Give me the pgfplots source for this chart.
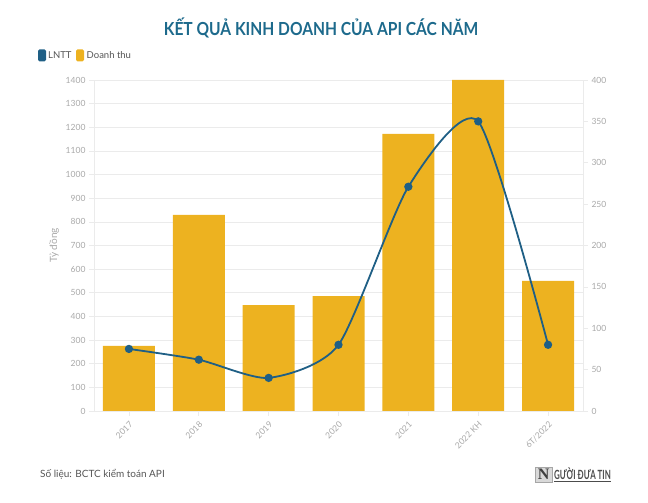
\documentclass[border=0pt]{standalone}
\usepackage{pgfplots}
\pgfplotsset{compat=1.18}
\usepackage{fontspec}
\setmainfont{Lato}
\newfontfamily\serifN{Liberation Serif}
\definecolor{barc}{HTML}{EDB220}
\definecolor{linec}{HTML}{1F5F85}
\definecolor{ttl}{HTML}{1D6A8C}
\definecolor{tickc}{HTML}{A8A8A8}
\definecolor{gridc}{HTML}{EBEBEB}
\definecolor{txtc}{HTML}{555555}
\begin{document}
\begin{tikzpicture}
\useasboundingbox (0pt,0pt) rectangle (648pt,503pt);
\node[font=\fontsize{18}{22}\selectfont\bfseries, text=ttl, inner sep=0] at (321pt,475pt) {\scalebox{0.865}[1]{KẾT QUẢ KINH DOANH CỦA API CÁC NĂM}};
% legend
\fill[linec, rounded corners=1.5pt] (38pt,441.5pt) rectangle (46pt,453.5pt);
\node[anchor=west, font=\fontsize{9.5}{12}\selectfont, text=txtc, inner sep=0] at (48pt,447.5pt) {LNTT};
\fill[barc, rounded corners=1.5pt] (76pt,441.5pt) rectangle (84pt,453.5pt);
\node[anchor=west, font=\fontsize{9.5}{12}\selectfont, text=txtc, inner sep=0] at (86.5pt,447.5pt) {Doanh thu};
\begin{axis}[at={(94pt,92pt)}, anchor=south west, scale only axis,
  width=489pt, height=331pt,
  xmin=-0.5, xmax=6.5, ymin=0, ymax=1400,
  ytick={0,100,...,1400},
  ymajorgrids, grid style={gridc, line width=0.6pt},
  axis x line*=bottom, axis y line*=left,
  axis line style={gridc, line width=0.6pt},
  xtick={0,...,6},
  xticklabels={2017,2018,2019,2020,2021,2022 KH,6T/2022},
  xticklabel style={rotate=45, anchor=north east},
  tick style={gridc, line width=0.6pt},
  tick align=outside, major tick length=5pt,
  ticklabel style={font=\fontsize{8.5}{10}\selectfont, text=tickc},
  ylabel={Tỷ đồng},
  ylabel style={text=tickc, font=\fontsize{10}{12}\selectfont},
  /pgf/number format/assume math mode=true,
  /pgf/number format/1000 sep={},
  ybar, bar width=52pt]
\addplot[fill=barc, draw=none] coordinates {(0,275) (1,829) (2,448) (3,486) (4,1172) (5,1400) (6,550)};
\end{axis}
\begin{axis}[at={(94pt,92pt)}, anchor=south west, scale only axis,
  width=489pt, height=331pt,
  xmin=-0.5, xmax=6.5, ymin=0, ymax=400,
  ytick={0,50,...,400},
  axis x line=none, axis y line*=right,
  axis line style={gridc, line width=0.6pt},
  tick style={gridc, line width=0.6pt},
  tick align=outside, major tick length=5pt,
  ticklabel style={font=\fontsize{8.5}{10}\selectfont, text=tickc},
  /pgf/number format/assume math mode=true,
  /pgf/number format/1000 sep={}]
\addplot[linec, line width=1.8pt, smooth, tension=0.4, mark=*, mark size=3.2pt, mark options={fill=linec, draw=linec}] coordinates {(0,75) (1,62) (2,40) (3,80) (4,271) (5,350) (6,80)};
\end{axis}
% footer
\node[anchor=west, font=\fontsize{10}{12}\selectfont, text=txtc, inner sep=0] at (40pt,29pt) {Số liệu: BCTC kiểm toán API};
\node[anchor=west, inner sep=0pt, minimum width=17pt, minimum height=15pt, fill=gray!30, draw=gray!70, text=black!75, font=\serifN\bfseries\fontsize{16}{16}\selectfont] (N) at (535pt,28.5pt) {N};
\node[anchor=south west, inner sep=0, text=black!70, font=\bfseries\fontsize{11}{12}\selectfont] at ([xshift=1.5pt]N.south east) {\scalebox{0.72}[1.15]{\underline{GƯỜI ĐƯA TIN}}};
\end{tikzpicture}
\end{document}
